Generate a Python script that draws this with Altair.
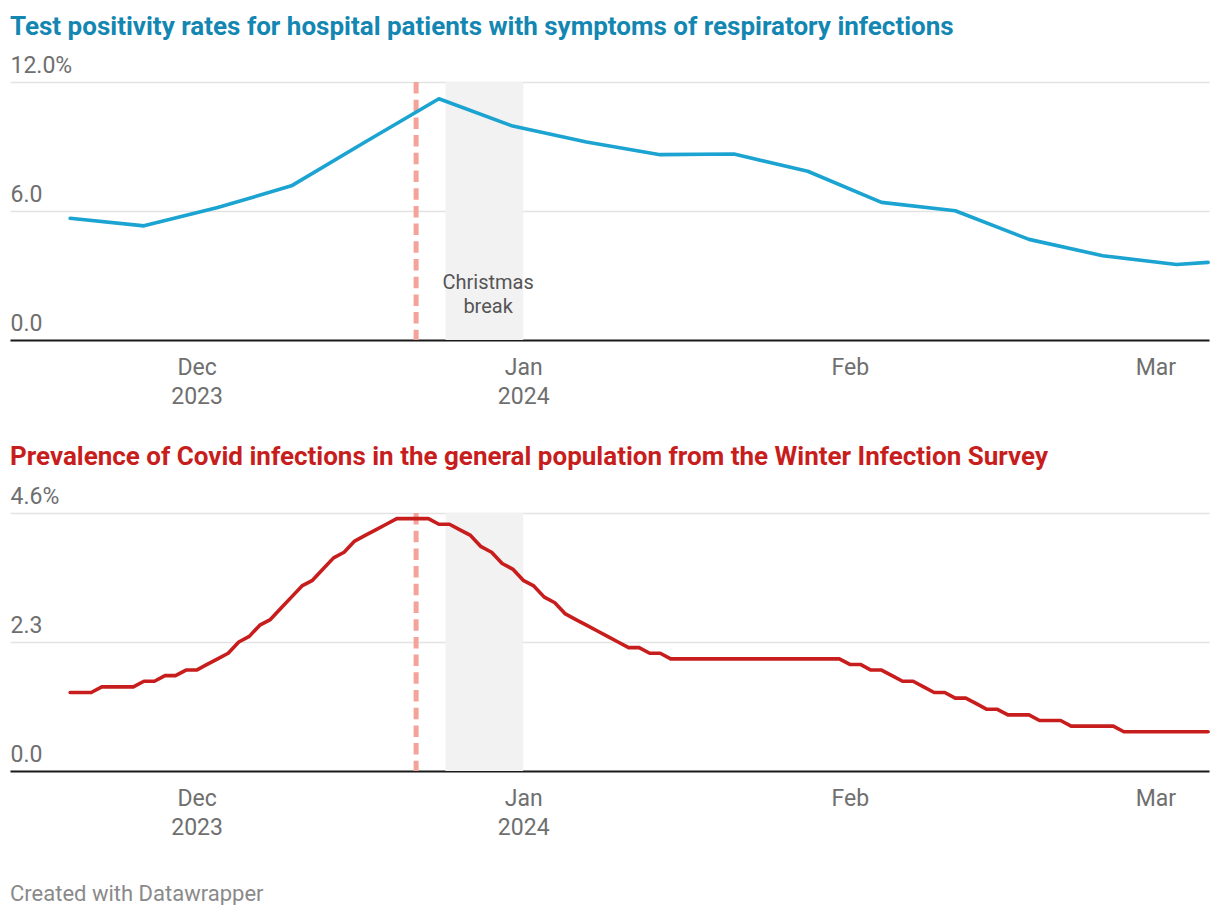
import altair as alt
import pandas as pd

# ---------------- data ----------------
blue_dates = ["2023-11-19", "2023-11-26", "2023-12-03", "2023-12-10", "2023-12-17",
              "2023-12-24", "2023-12-31", "2024-01-07", "2024-01-14", "2024-01-21",
              "2024-01-28", "2024-02-04", "2024-02-11", "2024-02-18", "2024-02-25",
              "2024-03-03", "2024-03-06"]
blue_values = [5.66, 5.31, 6.16, 7.17, 9.21, 11.22, 9.95, 9.21, 8.62, 8.65,
               7.85, 6.40, 6.01, 4.68, 3.92, 3.51, 3.61]

red_start = "2023-11-19"
red_values = [1.4, 1.4, 1.4, 1.5, 1.5, 1.5, 1.5, 1.6, 1.6, 1.7, 1.7, 1.8, 1.8,
              1.9, 2.0, 2.1, 2.3, 2.4, 2.6, 2.7, 2.9, 3.1, 3.3, 3.4, 3.6, 3.8, 3.9,
              4.1, 4.2, 4.3, 4.4, 4.5, 4.5, 4.5, 4.5,
              4.4, 4.4, 4.3, 4.2, 4.0, 3.9, 3.7, 3.6, 3.4, 3.3, 3.1, 3.0, 2.8, 2.7,
              2.6, 2.5, 2.4, 2.3, 2.2, 2.2, 2.1, 2.1,
              2.0, 2.0, 2.0, 2.0, 2.0, 2.0, 2.0, 2.0, 2.0, 2.0, 2.0, 2.0, 2.0, 2.0,
              2.0, 2.0, 2.0,
              1.9, 1.9, 1.8, 1.8, 1.7, 1.6, 1.6, 1.5, 1.4, 1.4, 1.3, 1.3, 1.2, 1.1,
              1.1, 1.0, 1.0, 1.0, 0.9, 0.9, 0.9, 0.8, 0.8, 0.8, 0.8, 0.8,
              0.7, 0.7, 0.7, 0.7, 0.7, 0.7, 0.7, 0.7, 0.7]
red_dates = pd.date_range(red_start, periods=len(red_values), freq="D").strftime("%Y-%m-%dT00:00:00").tolist()

marker_dates = ["2023-12-21T20:00:00"]
break_starts = ["2023-12-24T15:00:00"]
break_ends = ["2024-01-01T00:00:00"]
break_label_dates = ["2023-12-28T16:00:00"]
break_label_texts = ["Christmas\nbreak"]
break_label_y = [2.38]

title_top = "Test positivity rates for hospital patients with symptoms of respiratory infections"
title_bottom = "Prevalence of Covid infections in the general population from the Winter Infection Survey"
footer = "Created with Datawrapper"

top_ticks = [0, 6, 12]
bottom_ticks = [0, 2.3, 4.6]

# ---------------- frames ----------------
blue_df = pd.DataFrame({"date": [d + "T00:00:00" for d in blue_dates], "value": blue_values})
red_df = pd.DataFrame({"date": red_dates, "value": red_values})
marker_df = pd.DataFrame({"date": marker_dates})
band_df = pd.DataFrame({"start": break_starts, "end": break_ends})
label_df = pd.DataFrame({"date": break_label_dates, "text": break_label_texts, "y": break_label_y})

# ---------------- styling ----------------
FONT = "Roboto"
W, H = 1199, 258
LABEL_COLOR = "#6f6f6f"
TICK_FS = 23

x_scale = alt.Scale(domain=[alt.DateTime(year=2023, month=11, date=13, hours=7),
                            alt.DateTime(year=2024, month=3, date=6, hours=2)])

x_axis = alt.Axis(
    values=[alt.DateTime(year=2023, month=12, date=1), alt.DateTime(year=2024, month=1, date=1),
            alt.DateTime(year=2024, month=2, date=1), alt.DateTime(year=2024, month=3, date=1)],
    labelExpr="(month(datum.value) == 11 || month(datum.value) == 0) ? [timeFormat(datum.value, '%b'), timeFormat(datum.value, '%Y')] : timeFormat(datum.value, '%b')",
    title=None, grid=False, ticks=False, tickSize=0, domain=True, domainColor="#1a1a1a",
    domainWidth=2, labelFontSize=TICK_FS, labelColor=LABEL_COLOR, labelPadding=16,
    labelBaseline="top", labelLineHeight=29.5, labelFont=FONT, labelFlush=False,
    labelOverlap=False, labelBound=False,
)


def y_axis(ticks, top_label):
    return alt.Axis(
        values=ticks,
        labelExpr=f"datum.value == {ticks[-1]} ? '{top_label}' : format(datum.value, '.1f')",
        title=None, domain=False, ticks=False, tickSize=0, grid=True, gridColor="#e3e3e3",
        gridWidth=1.5, labelAlign="left", labelBaseline="alphabetic", labelOffset=-10,
        labelPadding=0, labelFontSize=TICK_FS, labelColor=LABEL_COLOR, labelFont=FONT,
        labelOverlap=False, labelFlush=False, labelBound=False,
    )


def panel(df, color, ymax, ticks, top_label, title_text, title_color, with_label, title_offset):
    y_scale = alt.Scale(domain=[0, ymax], nice=False, zero=True)
    ya = y_axis(ticks, top_label)
    band = alt.Chart(band_df).mark_rect(color="#f2f2f2").encode(
        x=alt.X("start:T", scale=x_scale, axis=x_axis),
        x2="end:T",
        y=alt.YDatum(0, scale=y_scale, axis=ya),
        y2=alt.Y2Datum(ymax),
    )
    rule = alt.Chart(marker_df).mark_rule(color="#f4a39b", strokeWidth=5, strokeDash=[11.5, 6.2]).encode(
        x=alt.X("date:T", scale=x_scale, axis=x_axis),
        y=alt.YDatum(ymax, scale=y_scale, axis=ya),
        y2=alt.Y2Datum(0),
    )
    line = alt.Chart(df).mark_line(color=color, strokeWidth=3.6, strokeJoin="round", strokeCap="round").encode(
        x=alt.X("date:T", scale=x_scale, axis=x_axis),
        y=alt.Y("value:Q", scale=y_scale, axis=ya),
    )
    layers = [band, rule, line]
    if with_label:
        txt = alt.Chart(label_df).mark_text(align="center", baseline="alphabetic", fontSize=20,
                                            color="#555555", lineHeight=24, lineBreak="\n",
                                            font=FONT).encode(
            x=alt.X("date:T", scale=x_scale, axis=x_axis),
            y=alt.Y("y:Q", scale=y_scale, axis=ya),
            text="text:N",
        )
        layers.append(txt)
    return alt.layer(*layers).properties(
        width=W, height=H,
        title=alt.TitleParams(title_text, anchor="start", fontSize=26, fontWeight="bold",
                              color=title_color, font=FONT, baseline="alphabetic", offset=title_offset),
    )


top = panel(blue_df, "#1ba3d1", 12, top_ticks, "12.0%", title_top, "#1386b2", True, -7)
bottom = panel(red_df, "#c71e1d", 4.6, bottom_ticks, "4.6%", title_bottom, "#c71e1d", False, -6)

chart = alt.vconcat(top, bottom, spacing=35).properties(
    title=alt.TitleParams(footer, orient="bottom", anchor="start", fontSize=22, fontWeight="normal",
                          color="#8a8a8a", font=FONT, baseline="top", offset=44),
    padding={"left": 2, "top": 6, "right": 0, "bottom": 0},
).configure(font=FONT, background="white").configure_view(stroke=None)

chart.save("out.html", embed_options={"renderer": "svg", "actions": False})
